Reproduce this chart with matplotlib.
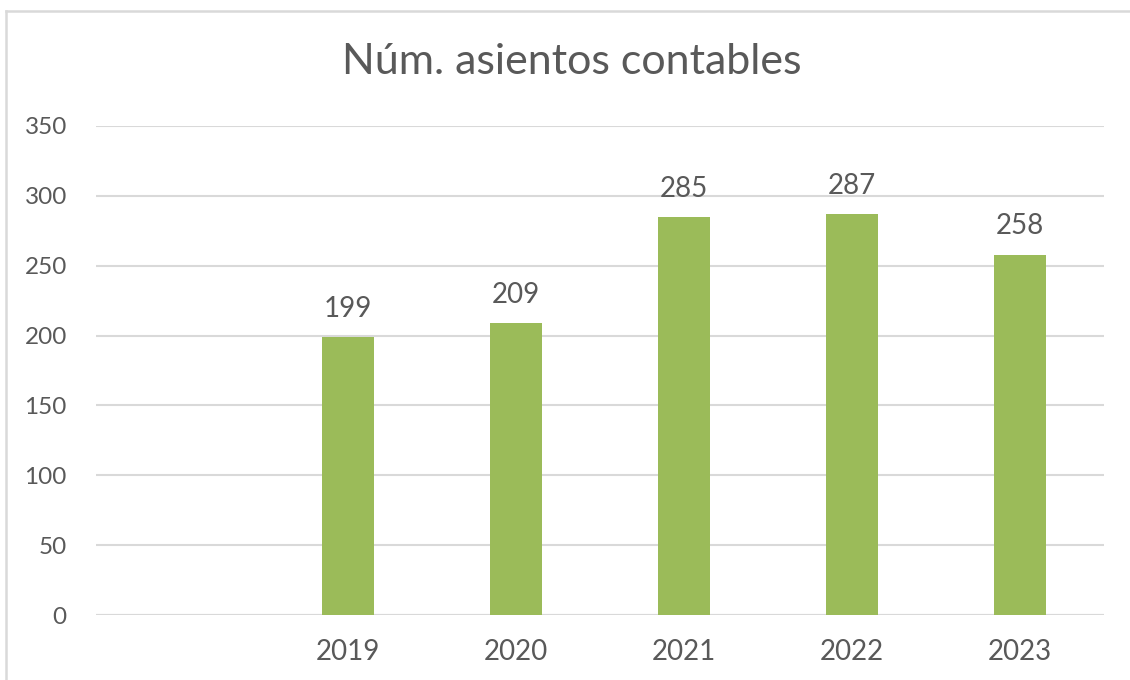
import matplotlib
matplotlib.use("Agg")
import matplotlib.pyplot as plt
from matplotlib.lines import Line2D

categories = ["", "2019", "2020", "2021", "2022", "2023"]
values = [None, 199, 209, 285, 287, 258]
yticks = [0, 50, 100, 150, 200, 250, 300, 350]
title = "Núm. asientos contables"

plt.rcParams['font.family'] = ['Lato', 'DejaVu Sans']
text_color = "#595959"
bar_color = "#9bbb59"
border = "#d9d9d9"

fig = plt.figure(figsize=(11.3, 6.8), dpi=100)
fig.patch.set_facecolor("white")
W, H = 1130, 680
fig.lines.append(Line2D([5.5 / W, 5.5 / W], [0, 1 - 10.5 / H], transform=fig.transFigure,
                        color=border, linewidth=1.8))
fig.lines.append(Line2D([5.5 / W, 1], [1 - 10.5 / H, 1 - 10.5 / H], transform=fig.transFigure,
                        color=border, linewidth=1.8))

ax = fig.add_axes([96 / W, 1 - 615 / H, (1104 - 96) / W, (615 - 126) / H])
x = list(range(len(categories)))
xs = [i for i, v in zip(x, values) if v is not None]
vs = [v for v in values if v is not None]
ax.bar(xs, vs, width=0.31, color=bar_color, zorder=3)
for xi, v in zip(xs, vs):
    ax.annotate(str(v), (xi, v), xytext=(0, 11), textcoords="offset points",
                ha="center", va="bottom", fontsize=20, color=text_color)

ax.set_xlim(-0.5, len(categories) - 0.5)
ax.set_ylim(0, 350)
ax.set_yticks(yticks)
ax.set_xticks(x)
ax.set_xticklabels(categories)
ax.tick_params(axis="both", length=0, labelcolor=text_color)
ax.tick_params(axis="x", pad=17, labelsize=20)
ax.tick_params(axis="y", pad=21, labelsize=17.5)
ax.yaxis.grid(True, color=border, linewidth=1.5, zorder=0)
for s in ax.spines.values():
    s.set_visible(False)
ax.axhline(0, color=border, linewidth=1.5, zorder=2)

fig.text(572 / W, 1 - 62 / H, title, ha="center", va="center", fontsize=31, color=text_color)

fig.savefig("out.png", dpi=100, facecolor="white")
